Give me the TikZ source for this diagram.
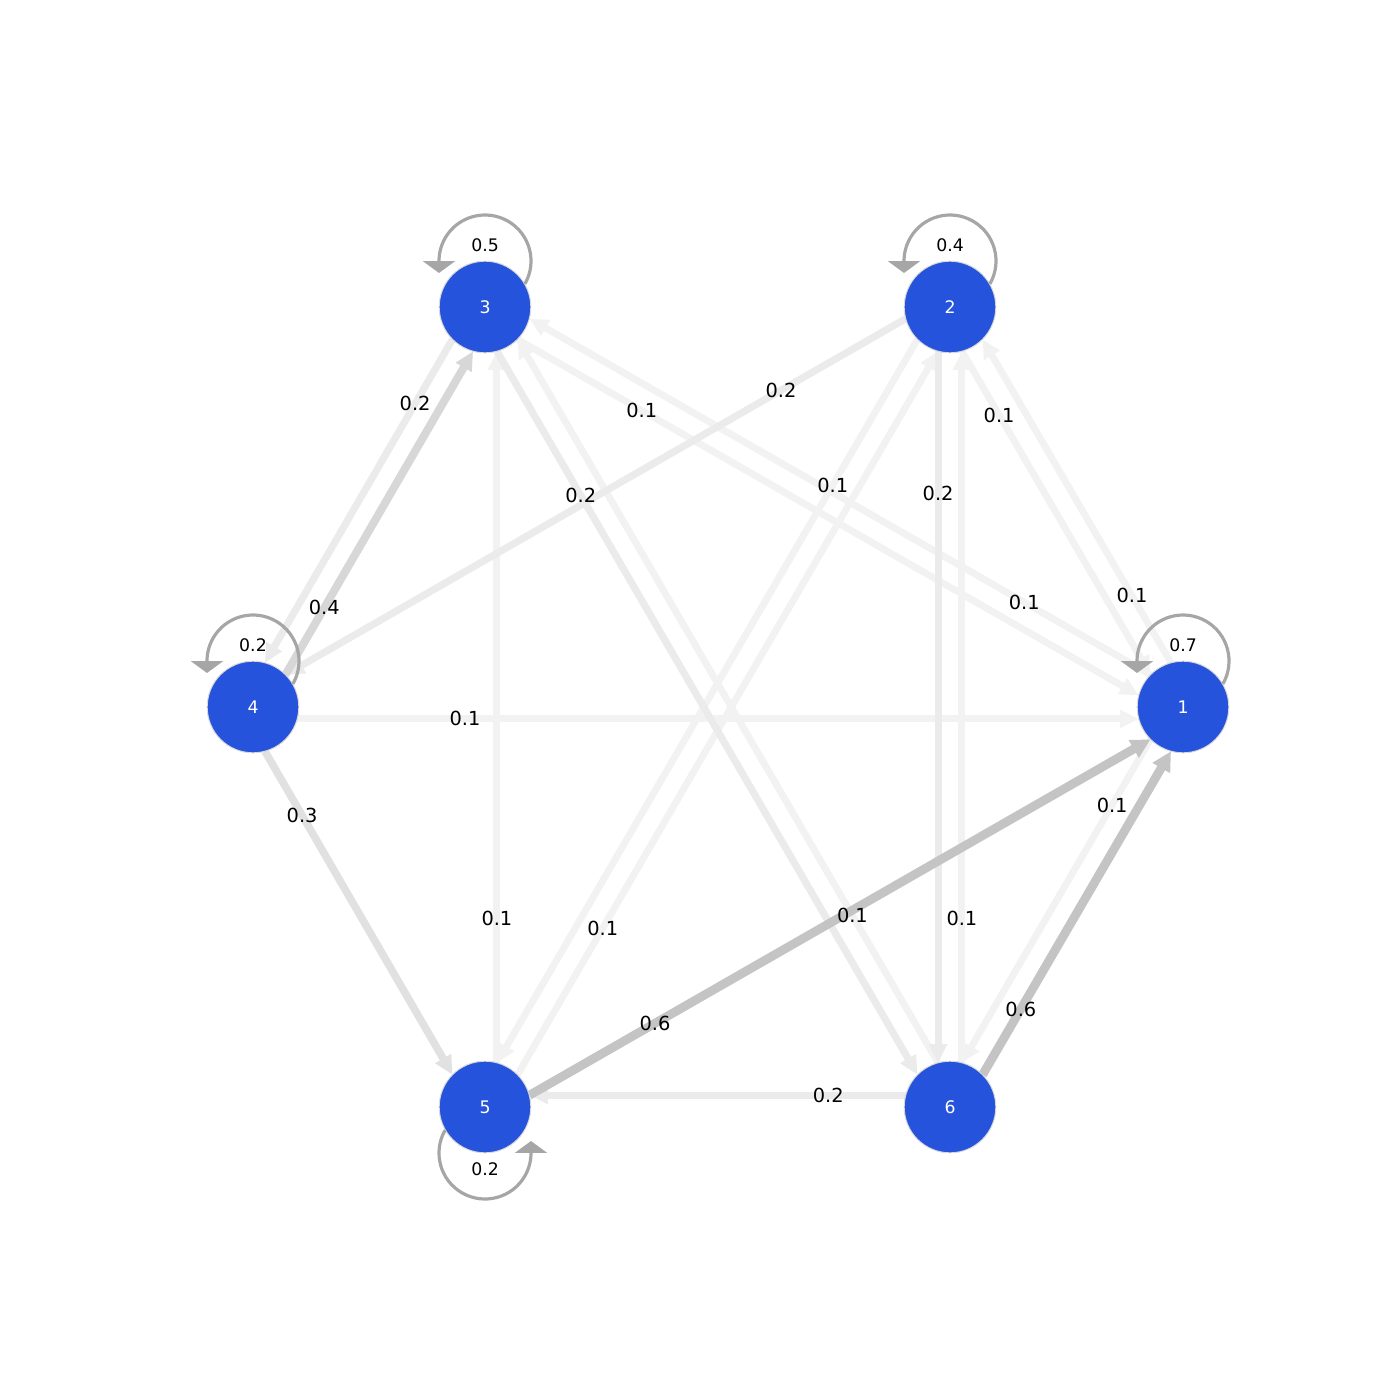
\documentclass[tikz,border=0pt]{standalone}
\usepackage{fontspec}
\setmainfont{DejaVu Sans}
\usetikzlibrary{arrows.meta,calc,backgrounds}
\definecolor{stateblue}{HTML}{2653DB}
\definecolor{loopgrey}{HTML}{A6A6A6}
\definecolor{pone}{HTML}{F2F2F2}
\definecolor{ptwo}{HTML}{EBEBEB}
\definecolor{pthree}{HTML}{E1E1E1}
\definecolor{pfour}{HTML}{D7D7D7}
\definecolor{psix}{HTML}{C4C4C4}
\newcommand{\transition}[5]{%
 \begin{pgfonlayer}{background}%
  \draw[edgeline,#3] ($(#1)!8.6pt!-90:(#2)$) -- ($(#2)!8.6pt!90:(#1)$);%
 \end{pgfonlayer}%
 \path ($(#1)!8.6pt!-90:(#2)$) -- node[pos=#5,prob] (l#1#2) {#4} ($(#2)!8.6pt!90:(#1)$);%
}
\newcommand{\selfloop}[3]{%
 \draw[loopline] (#1.center) ++({#2}:46) ++({#2+120}:46)
  arc[start angle={#2+120}, end angle={#2-90}, radius=46] -- ++({#2+180}:12);%
 \node[looplabel] (s#1) at ($(#1.center)+({#2}:62)$) {#3};%
}

\begin{document}
\begin{tikzpicture}[x=0.254mm,y=-0.254mm,
  state/.style={circle,fill=stateblue,draw=white!85!black,line width=0.7pt,
   minimum size=66.2pt,inner sep=0pt,text=white,font=\fontsize{12.5}{14}\selectfont},
  prob/.style={inner sep=0pt,font=\fontsize{14}{16}\selectfont},
  looplabel/.style={inner sep=0pt,font=\fontsize{12.5}{14}\selectfont},
  edgeline/.style={line width=5pt,shorten <=32pt,shorten >=32pt,
   -{Triangle[width=12.5pt,length=13.5pt]}},
  loopline/.style={loopgrey,line width=2.3pt,-{Triangle[width=23pt,length=8.6pt]}},
  wone/.style={color=pone},
  wtwo/.style={color=ptwo,line width=5.2pt},
  wthree/.style={color=pthree,line width=5.5pt},
  wfour/.style={color=pfour,line width=5.8pt},
  wsix/.style={color=psix,line width=6.4pt,-{Triangle[width=13.8pt,length=14pt]}}]
  \useasboundingbox (0,0) rectangle (1400,1400);
  \node[state] (n1) at (1183,707) {1};
  \node[state] (n2) at (950,307) {2};
  \node[state] (n3) at (485,307) {3};
  \node[state] (n4) at (253,707) {4};
  \node[state] (n5) at (485,1107) {5};
  \node[state] (n6) at (950,1107) {6};
  \selfloop{n1}{-90}{0.7};
  \selfloop{n2}{-90}{0.4};
  \selfloop{n3}{-90}{0.5};
  \selfloop{n4}{-90}{0.2};
  \selfloop{n5}{90}{0.2};
  \transition{n4}{n1}{wone}{0.1}{.228};
  \transition{n1}{n2}{wone}{0.1}{.263};
  \transition{n1}{n3}{wone}{0.1}{.236};
  \transition{n1}{n6}{wone}{0.1}{.26};
  \transition{n2}{n1}{wone}{0.1}{.255};
  \transition{n2}{n5}{wone}{0.1}{.23};
  \transition{n3}{n1}{wone}{0.1}{.233};
  \transition{n5}{n3}{wone}{0.1}{.236};
  \transition{n5}{n2}{wone}{0.1}{.231};
  \transition{n6}{n2}{wone}{0.1}{.236};
  \transition{n6}{n3}{wone}{0.1}{.232};
  \transition{n2}{n4}{wtwo}{0.2}{.234};
  \transition{n2}{n6}{wtwo}{0.2}{.233};
  \transition{n3}{n4}{wtwo}{0.2}{.257};
  \transition{n3}{n6}{wtwo}{0.2}{.228};
  \transition{n6}{n5}{wtwo}{0.2}{.262};
  \transition{n4}{n5}{wthree}{0.3}{.256};
  \transition{n4}{n3}{wfour}{0.4}{.263};
  \transition{n5}{n1}{wsix}{0.6}{.235};
  \transition{n6}{n1}{wsix}{0.6}{.26};
\end{tikzpicture}
\end{document}
